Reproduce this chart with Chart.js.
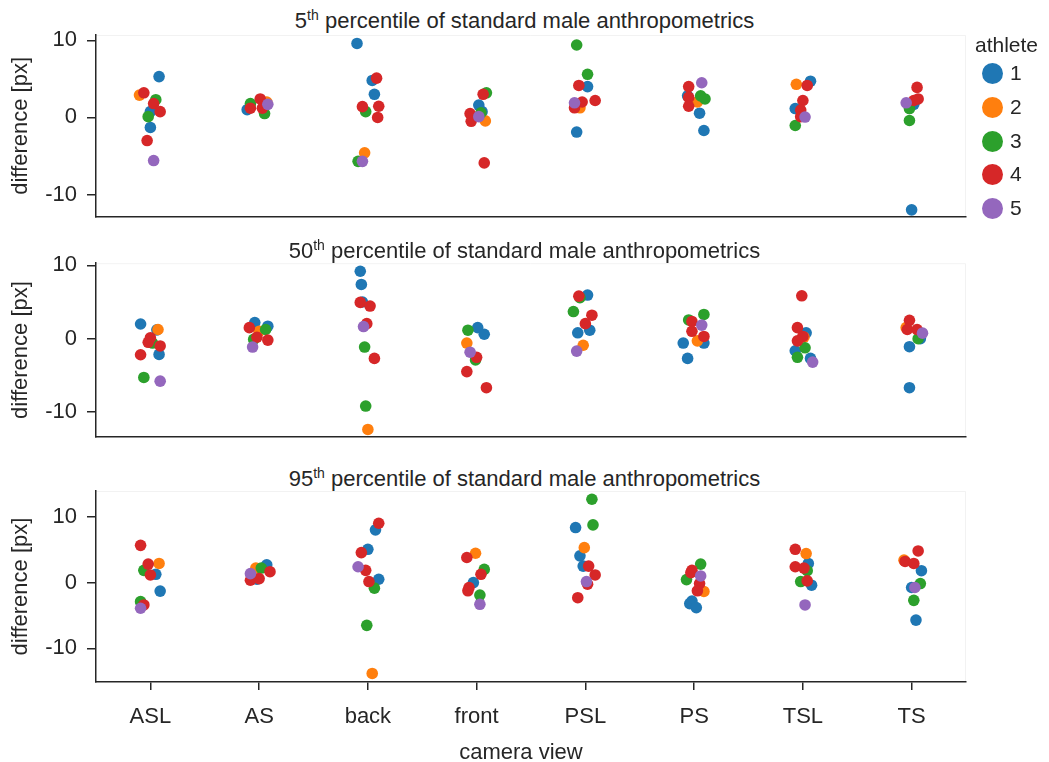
<!DOCTYPE html>
<html>
<head>
<meta charset="utf-8">
<title>camera view differences</title>
<script src="https://cdn.jsdelivr.net/npm/chart.js@4.4.1/dist/chart.umd.min.js"></script>
<style>
  body { margin: 0; background: #fff; font-family: 'Liberation Sans', Arial, sans-serif; color: #262626; }
  #wrap { position: relative; width: 1049px; height: 762px; overflow: hidden; }
  canvas { position: absolute; left: 0; }
  .title { position: absolute; left: 90px; width: 869px; text-align: center; font-size: 22px; line-height: 26px; white-space: nowrap; }
  .title sup { font-size: 14px; line-height: 0; vertical-align: 8px; }
  #xlabel { position: absolute; left: 0; width: 1042px; top: 739px; text-align: center; font-size: 22px; line-height: 26px; }
  #legend { position: absolute; left: 975px; top: 0; font-size: 21px; }
  .leg-row { position: absolute; left: 0; height: 24px; line-height: 24px; white-space: nowrap; }
  .leg-dot { display: inline-block; width: 21px; height: 21px; border-radius: 50%; vertical-align: middle; margin-left: 7px; margin-right: 7px; position: relative; top: -1px; }
</style>
</head>
<body>
<div id="wrap">
  <div class="title" style="top:8px">5<sup>th</sup> percentile of standard male anthropometrics</div>
  <canvas id="c5" width="1049" height="240" style="top:0"></canvas>
  <div class="title" style="top:238px">50<sup>th</sup> percentile of standard male anthropometrics</div>
  <canvas id="c50" width="1049" height="220" style="top:240px"></canvas>
  <div class="title" style="top:466px">95<sup>th</sup> percentile of standard male anthropometrics</div>
  <canvas id="c95" width="1049" height="310" style="top:460px"></canvas>
  <div id="xlabel">camera view</div>
  <div id="legend"></div>
</div>
<script>
const categories = ['ASL', 'AS', 'back', 'front', 'PSL', 'PS', 'TSL', 'TS'];
const athletes = ['1', '2', '3', '4', '5'];
const athleteColors = ['#1f77b4', '#ff7f0e', '#2ca02c', '#d62728', '#9467bd'];
const yTicks = [-10, 0, 10];

// rows: [camera view, athlete, difference (px), strip jitter]
const p5 = [
    ['ASL', 1, 5.3, 0.08], ['ASL', 2, 2.9, -0.10], ['ASL', 4, 3.2, -0.06], ['ASL', 3, 2.3, 0.05],
    ['ASL', 4, 1.8, 0.03], ['ASL', 1, 0.75, 0.0], ['ASL', 4, 0.75, 0.09], ['ASL', 3, 0.1, -0.02],
    ['ASL', 1, -1.3, 0.0], ['ASL', 4, -3.0, -0.03], ['ASL', 5, -5.6, 0.03],
    ['AS', 1, 1.0, -0.11], ['AS', 3, 1.8, -0.08], ['AS', 4, 2.4, 0.01], ['AS', 4, 1.2, -0.08],
    ['AS', 2, 2.0, 0.07], ['AS', 4, 1.2, 0.03], ['AS', 3, 0.5, 0.05], ['AS', 5, 1.7, 0.08],
    ['back', 1, 9.6, -0.10], ['back', 1, 4.8, 0.04], ['back', 4, 5.1, 0.08], ['back', 1, 3.0, 0.06],
    ['back', 4, 1.4, -0.05], ['back', 3, 0.75, -0.02], ['back', 4, 1.45, 0.10], ['back', 4, 0.0, 0.09],
    ['back', 2, -4.6, -0.03], ['back', 3, -5.7, -0.09], ['back', 5, -5.7, -0.05],
    ['front', 3, 3.2, 0.09], ['front', 4, 3.0, 0.06], ['front', 1, 1.6, 0.02], ['front', 1, 0.75, 0.05],
    ['front', 3, 0.6, 0.04], ['front', 4, 0.5, -0.06], ['front', 5, 0.1, 0.02], ['front', 4, -0.5, -0.05],
    ['front', 2, -0.45, 0.08], ['front', 4, -5.9, 0.07],
    ['PSL', 3, 9.4, -0.08], ['PSL', 3, 5.6, 0.02], ['PSL', 1, 4.0, 0.02], ['PSL', 4, 4.15, -0.06],
    ['PSL', 4, 2.2, 0.09], ['PSL', 4, 2.0, -0.03], ['PSL', 2, 1.25, -0.05], ['PSL', 4, 1.25, -0.10],
    ['PSL', 5, 1.9, -0.10], ['PSL', 1, -1.9, -0.08],
    ['PS', 5, 4.5, 0.07], ['PS', 4, 4.0, -0.05], ['PS', 1, 2.8, -0.06], ['PS', 4, 2.6, -0.05],
    ['PS', 3, 2.8, 0.06], ['PS', 3, 2.4, 0.10], ['PS', 2, 2.0, 0.03], ['PS', 4, 1.45, -0.05],
    ['PS', 1, 0.55, 0.05], ['PS', 1, -1.7, 0.09],
    ['TSL', 2, 4.3, -0.06], ['TSL', 1, 4.7, 0.07], ['TSL', 4, 4.15, 0.04], ['TSL', 4, 2.2, 0.0],
    ['TSL', 1, 1.15, -0.07], ['TSL', 4, 0.95, -0.02], ['TSL', 4, 0.1, -0.02], ['TSL', 5, 0.05, 0.02],
    ['TSL', 3, -1.05, -0.07],
    ['TS', 4, 3.9, 0.05], ['TS', 4, 2.4, 0.06], ['TS', 4, 2.2, 0.02], ['TS', 5, 1.9, -0.05],
    ['TS', 1, 1.7, 0.02], ['TS', 3, 1.15, -0.02], ['TS', 3, -0.4, -0.02], ['TS', 1, -12.0, 0.0]
];

const p50 = [
    ['ASL', 1, 2.0, -0.09], ['ASL', 1, 1.2, 0.06], ['ASL', 2, 1.25, 0.07], ['ASL', 3, -0.6, 0.02],
    ['ASL', 4, 0.1, 0.0], ['ASL', 4, -0.5, -0.02], ['ASL', 4, -1.0, 0.09], ['ASL', 1, -2.15, 0.08],
    ['ASL', 4, -2.2, -0.09], ['ASL', 3, -5.3, -0.06], ['ASL', 5, -5.8, 0.09],
    ['AS', 1, 2.2, -0.04], ['AS', 1, 1.7, 0.08], ['AS', 4, 1.5, -0.09], ['AS', 2, 1.0, 0.0],
    ['AS', 3, 1.25, 0.06], ['AS', 3, -0.1, -0.05], ['AS', 4, 0.2, -0.02], ['AS', 4, -0.2, 0.08],
    ['AS', 5, -1.15, -0.06],
    ['back', 1, 9.2, -0.07], ['back', 1, 7.4, -0.06], ['back', 1, 5.0, -0.05], ['back', 4, 4.95, -0.07],
    ['back', 4, 4.45, 0.02], ['back', 4, 2.05, -0.01], ['back', 5, 1.65, -0.04], ['back', 3, -1.15, -0.03],
    ['back', 4, -2.7, 0.06], ['back', 3, -9.2, -0.02], ['back', 2, -12.4, 0.0],
    ['front', 1, 1.5, 0.01], ['front', 1, 0.6, 0.07], ['front', 3, 1.15, -0.08], ['front', 2, -0.6, -0.09],
    ['front', 5, -1.85, -0.06], ['front', 3, -2.9, -0.01], ['front', 4, -2.55, 0.0], ['front', 4, -4.5, -0.09],
    ['front', 4, -6.7, 0.09],
    ['PSL', 1, 5.95, 0.02], ['PSL', 3, 5.6, -0.05], ['PSL', 4, 5.8, -0.06], ['PSL', 3, 3.7, -0.11],
    ['PSL', 4, 3.2, 0.06], ['PSL', 4, 2.05, 0.0], ['PSL', 1, 1.15, 0.04], ['PSL', 1, 0.8, -0.07],
    ['PSL', 2, -0.9, -0.02], ['PSL', 5, -1.7, -0.08],
    ['PS', 3, 3.3, 0.09], ['PS', 3, 2.55, -0.05], ['PS', 4, 2.35, -0.02], ['PS', 5, 1.85, 0.07],
    ['PS', 4, 1.0, -0.02], ['PS', 4, 0.3, 0.09], ['PS', 1, -0.6, 0.09], ['PS', 2, -0.3, 0.03],
    ['PS', 1, -0.6, -0.10], ['PS', 1, -2.7, -0.06],
    ['TSL', 4, 5.85, -0.01], ['TSL', 4, 1.5, -0.05], ['TSL', 1, 0.8, 0.03], ['TSL', 2, 0.2, 0.01],
    ['TSL', 4, 0.3, 0.0], ['TSL', 4, -0.3, -0.05], ['TSL', 3, -1.25, 0.02], ['TSL', 1, -1.65, -0.07],
    ['TSL', 3, -2.55, -0.05], ['TSL', 1, -2.7, 0.07], ['TSL', 5, -3.2, 0.09],
    ['TS', 2, 1.5, -0.05], ['TS', 4, 2.5, -0.02], ['TS', 4, 1.25, -0.04], ['TS', 4, 1.25, 0.05],
    ['TS', 5, 0.75, 0.10], ['TS', 1, 0.0, 0.08], ['TS', 3, 0.0, 0.06], ['TS', 1, -1.1, -0.02],
    ['TS', 1, -6.7, -0.02]
];

const p95 = [
    ['ASL', 4, 5.65, -0.09], ['ASL', 2, 2.9, 0.08], ['ASL', 4, 2.8, -0.02], ['ASL', 3, 1.85, -0.06],
    ['ASL', 1, 1.25, 0.05], ['ASL', 4, 1.15, 0.0], ['ASL', 1, -1.3, 0.09], ['ASL', 3, -2.9, -0.09],
    ['ASL', 4, -3.4, -0.06], ['ASL', 5, -3.9, -0.09],
    ['AS', 2, 2.2, -0.03], ['AS', 1, 2.7, 0.07], ['AS', 3, 2.2, 0.02], ['AS', 4, 1.65, 0.10],
    ['AS', 5, 1.35, -0.08], ['AS', 1, 0.5, -0.02], ['AS', 4, 0.35, -0.08], ['AS', 4, 0.6, 0.0],
    ['back', 4, 9.0, 0.10], ['back', 1, 8.0, 0.07], ['back', 1, 5.05, 0.0], ['back', 4, 4.55, -0.06],
    ['back', 5, 2.4, -0.09], ['back', 4, 1.85, -0.02], ['back', 1, 0.5, 0.10], ['back', 4, 0.15, 0.01],
    ['back', 3, -0.85, 0.06], ['back', 3, -6.5, -0.01], ['back', 2, -13.8, 0.04],
    ['front', 2, 4.45, -0.01], ['front', 4, 3.8, -0.09], ['front', 3, 2.0, 0.07], ['front', 4, 1.25, 0.04],
    ['front', 1, 0.0, -0.03], ['front', 4, -0.75, -0.07], ['front', 4, -1.25, -0.08], ['front', 3, -1.9, 0.03],
    ['front', 5, -3.3, 0.03],
    ['PSL', 3, 12.65, 0.06], ['PSL', 1, 8.35, -0.09], ['PSL', 3, 8.75, 0.07], ['PSL', 2, 5.3, -0.01],
    ['PSL', 1, 4.05, -0.05], ['PSL', 1, 2.5, -0.02], ['PSL', 4, 2.5, 0.03], ['PSL', 4, 1.15, 0.09],
    ['PSL', 4, -0.25, 0.02], ['PSL', 5, 0.15, 0.01], ['PSL', 4, -2.3, -0.07],
    ['PS', 3, 2.8, 0.06], ['PS', 4, 1.85, -0.02], ['PS', 4, 1.5, -0.03], ['PS', 5, 1.0, 0.06],
    ['PS', 3, 0.45, -0.07], ['PS', 4, -0.15, 0.05], ['PS', 2, -1.35, 0.09], ['PS', 4, -1.25, 0.03],
    ['PS', 1, -2.8, -0.02], ['PS', 1, -3.2, -0.04], ['PS', 1, -3.8, 0.02],
    ['TSL', 4, 5.05, -0.07], ['TSL', 2, 4.4, 0.03], ['TSL', 1, 2.9, 0.05], ['TSL', 4, 2.4, -0.07],
    ['TSL', 4, 2.2, 0.01], ['TSL', 3, 1.8, 0.04], ['TSL', 3, 0.15, -0.02], ['TSL', 4, 0.25, 0.04],
    ['TSL', 1, -0.4, 0.08], ['TSL', 5, -3.4, 0.02],
    ['TS', 4, 4.8, 0.06], ['TS', 2, 3.4, -0.07], ['TS', 4, 3.2, -0.06], ['TS', 4, 2.9, 0.02],
    ['TS', 1, 1.8, 0.09], ['TS', 3, -0.15, 0.08], ['TS', 1, -0.75, 0.0], ['TS', 5, -0.75, 0.03],
    ['TS', 3, -2.7, 0.02], ['TS', 1, -5.7, 0.04]
];

const ink = '#262626';
const font = { family: "'Liberation Sans', Arial, sans-serif", size: 22 };

// faint frame round each axes patch, like the reference
const framePlugin = {
    id: 'frame',
    beforeDatasetsDraw(chart) {
        const a = chart.chartArea, c = chart.ctx;
        c.save();
        c.strokeStyle = 'rgba(0,0,0,0.05)';
        c.lineWidth = 1;
        c.beginPath();
        c.moveTo(a.left, a.top + 0.5);
        c.lineTo(a.right - 0.5, a.top + 0.5);
        c.lineTo(a.right - 0.5, a.bottom);
        c.stroke();
        c.restore();
    }
};

function makePanel(id, rows, yMin, yMax, padTop, xHeight, bottomPanel) {
    const datasets = athletes.map((a, i) => ({
        label: a,
        data: rows.filter(r => r[1] === i + 1)
            .map(r => ({ x: categories.indexOf(r[0]) + r[3], y: r[2] })),
        backgroundColor: athleteColors[i],
        borderWidth: 0,
        pointRadius: 5.8,
        pointHoverRadius: 5.8,
        order: athletes.length - i
    }));

    return new Chart(document.getElementById(id), {
        type: 'scatter',
        data: { datasets },
        plugins: [framePlugin],
        options: {
            responsive: false,
            animation: false,
            devicePixelRatio: 1,
            layout: { padding: { top: padTop, right: 83, left: 0, bottom: 0 } },
            plugins: { legend: { display: false }, tooltip: { enabled: false } },
            scales: {
                x: {
                    type: 'linear',
                    min: -0.5,
                    max: 7.5,
                    afterBuildTicks: s => { s.ticks = categories.map((c, i) => ({ value: i })); },
                    afterFit: s => { s.height = xHeight; },
                    ticks: {
                        display: bottomPanel,
                        callback: v => categories[v],
                        font, color: ink, padding: 14, maxRotation: 0, autoSkip: false
                    },
                    grid: { display: bottomPanel, drawOnChartArea: false, tickLength: 8, color: ink, lineWidth: 1.5 },
                    border: { display: true, color: ink, width: 1.5 }
                },
                y: {
                    min: yMin,
                    max: yMax,
                    afterBuildTicks: s => { s.ticks = yTicks.map(v => ({ value: v })); },
                    afterFit: s => { s.width = 96; },
                    ticks: { font, color: ink, padding: 10 },
                    grid: { drawOnChartArea: false, tickLength: 9, color: ink, lineWidth: 1.5 },
                    border: { display: true, color: ink, width: 1.5 },
                    title: { display: true, text: 'difference [px]', font, color: ink, padding: { top: 8, bottom: 0 } }
                }
            }
        }
    });
}

makePanel('c5', p5, -12.9, 10.7, 35, 17, false);
makePanel('c50', p50, -13.4, 10.3, 20, 7, false);
makePanel('c95', p95, -15.1, 13.9, 31, 88, true);

// legend
const legend = document.getElementById('legend');
const head = document.createElement('div');
head.className = 'leg-row';
head.style.top = '33px';
head.textContent = 'athlete';
legend.appendChild(head);
athletes.forEach((a, i) => {
    const row = document.createElement('div');
    row.className = 'leg-row';
    row.style.top = (61.3 + i * 33.7) + 'px';
    const dot = document.createElement('span');
    dot.className = 'leg-dot';
    dot.style.background = athleteColors[i];
    row.appendChild(dot);
    row.appendChild(document.createTextNode(a));
    legend.appendChild(row);
});
</script>
</body>
</html>
